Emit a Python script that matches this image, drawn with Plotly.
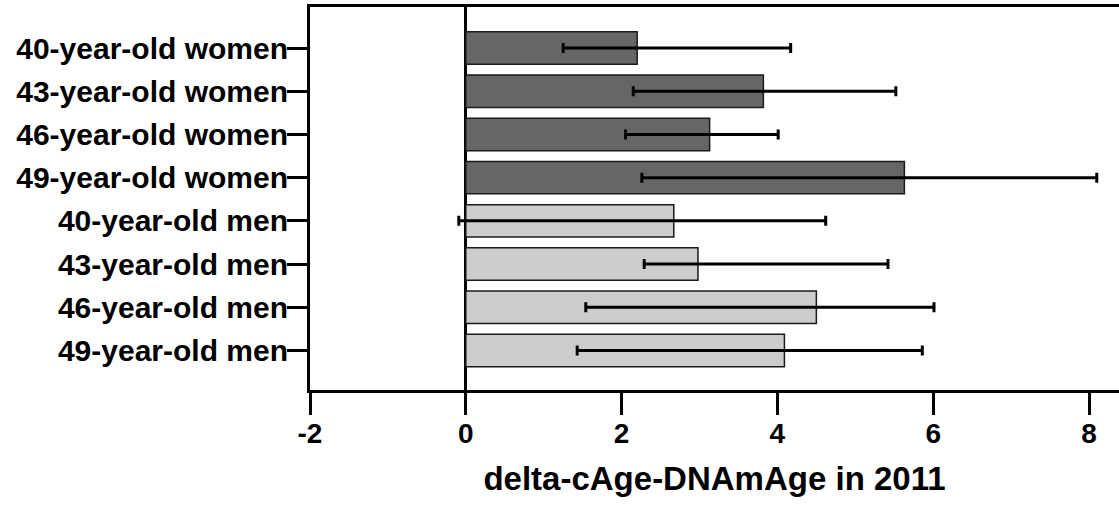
import plotly.graph_objects as go

categories = [
    "40-year-old women", "43-year-old women", "46-year-old women", "49-year-old women",
    "40-year-old men", "43-year-old men", "46-year-old men", "49-year-old men",
]
means = [2.20, 3.82, 3.13, 5.63, 2.67, 2.98, 4.50, 4.09]
lower = [1.25, 2.15, 2.05, 2.26, -0.09, 2.29, 1.54, 1.43]
upper = [4.17, 5.52, 4.01, 8.10, 4.62, 5.42, 6.01, 5.86]
bar_colors = ["#666666"] * 4 + ["#cccccc"] * 4
x_ticks = [-2, 0, 2, 4, 6, 8]

err_plus = [u - m for u, m in zip(upper, means)]
err_minus = [m - l for m, l in zip(means, lower)]

FONT = "Liberation Sans, Arial, sans-serif"

fig = go.Figure()
fig.add_trace(go.Bar(
    x=means, y=categories, orientation="h",
    marker=dict(color=bar_colors, line=dict(color="#1a1a1a", width=1.5)),
    error_x=dict(type="data", symmetric=False, array=err_plus, arrayminus=err_minus,
                 color="black", thickness=3, width=5),
    showlegend=False,
))

fig.update_layout(
    width=1119, height=505,
    margin=dict(l=310, r=0, t=7, b=115),
    paper_bgcolor="white", plot_bgcolor="white",
    bargap=0.25,
    font=dict(family=FONT, color="black", size=28, weight="bold"),
)
fig.update_xaxes(
    range=[-2, 8.385], tickvals=x_ticks, ticktext=[str(v) for v in x_ticks],
    showline=True, linecolor="black", linewidth=3, mirror=True,
    ticks="outside", ticklen=22, tickwidth=3, tickcolor="black",
    showgrid=False, zeroline=True, zerolinecolor="black", zerolinewidth=3,
    ticklabelstandoff=-6,
    tickfont=dict(family=FONT, size=28, color="black", weight="bold"),
    title=dict(text="delta-cAge-DNAmAge in 2011", standoff=20,
               font=dict(family=FONT, size=33, color="black", weight="bold")),
)
fig.update_yaxes(
    type="category", categoryorder="array", categoryarray=categories,
    range=[7.914, -0.949],
    showline=True, linecolor="black", linewidth=3,
    ticks="outside", ticklen=20, tickwidth=3, tickcolor="black",
    showgrid=False, zeroline=False,
    ticklabelstandoff=-7,
    tickfont=dict(family=FONT, size=30, color="black", weight="bold"),
)

fig.write_html("out.html", config={"displayModeBar": False},
               post_script="document.body.style.margin='0';document.body.style.overflow='hidden';")
